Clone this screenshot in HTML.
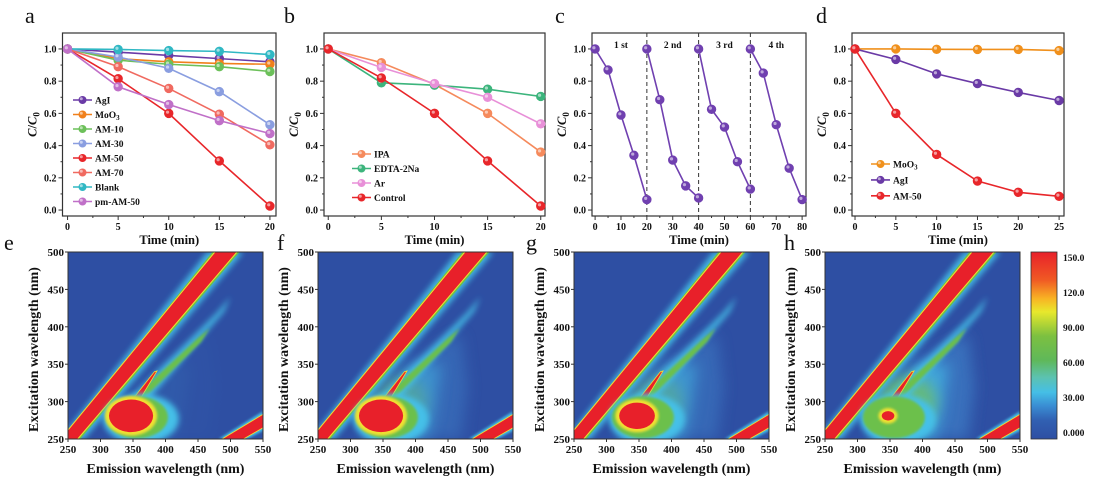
<!DOCTYPE html>
<html><head><meta charset="utf-8"><style>
html,body{margin:0;padding:0;background:#fff;}
svg{display:block;font-family:"Liberation Serif",serif;}
.tk{font-size:10px;font-weight:bold;fill:#111;}
.tt{font-size:12.5px;font-weight:bold;fill:#111;}
.lg{font-size:9.5px;font-weight:bold;fill:#111;}
.pl{font-size:22px;fill:#111;}
.ht{font-size:11px;font-weight:bold;fill:#111;}
.htt{font-size:14px;font-weight:bold;fill:#111;}
</style></head><body>
<svg id="fig" width="1110" height="486" viewBox="0 0 1110 486">
<defs>
<filter id="b1" x="-50%" y="-50%" width="200%" height="200%"><feGaussianBlur stdDeviation="1.2"/></filter>
<filter id="b2" x="-50%" y="-50%" width="200%" height="200%"><feGaussianBlur stdDeviation="3"/></filter>
<filter id="b3" x="-50%" y="-50%" width="200%" height="200%"><feGaussianBlur stdDeviation="7"/></filter>
<linearGradient id="cbg" x1="0" y1="1" x2="0" y2="0">
<stop offset="0" stop-color="#2e4fa3"/><stop offset="0.1" stop-color="#3160b2"/>
<stop offset="0.18" stop-color="#3a8fd4"/><stop offset="0.25" stop-color="#45bfe6"/>
<stop offset="0.33" stop-color="#5cc2b0"/><stop offset="0.42" stop-color="#5fb85a"/>
<stop offset="0.55" stop-color="#7cc040"/><stop offset="0.68" stop-color="#e8e82c"/>
<stop offset="0.75" stop-color="#f8b424"/><stop offset="0.85" stop-color="#f05a24"/>
<stop offset="1" stop-color="#e8202a"/></linearGradient>
</defs>
</svg>
<script>
const NS='http://www.w3.org/2000/svg';
const svg=document.getElementById('fig');
function mk(tag,attrs,parent){const e=document.createElementNS(NS,tag);for(const k in attrs)e.setAttribute(k,attrs[k]);(parent||svg).appendChild(e);return e;}

// ---------- data: panel a ----------
const aX=[0,5,10,15,20];
const aNames=['AgI','MoO3','AM-10','AM-30','AM-50','AM-70','Blank','pm-AM-50'];
const aAgI=[1,0.98,0.96,0.94,0.92];
const aMoO3=[1,0.94,0.92,0.91,0.905];
const aAM10=[1,0.93,0.905,0.89,0.86];
const aAM30=[1,0.95,0.88,0.735,0.53];
const aAM50=[1,0.815,0.6,0.305,0.025];
const aAM70=[1,0.89,0.755,0.595,0.405];
const aBlank=[1,0.997,0.99,0.985,0.965];
const aPm=[1,0.765,0.655,0.555,0.475];
// ---------- panel b ----------
const bX=[0,5,10,15,20];
const bNames=['IPA','EDTA-2Na','Ar','Control'];
const bIPA=[1,0.915,0.78,0.6,0.36];
const bEDTA=[1,0.79,0.775,0.75,0.705];
const bAr=[1,0.885,0.785,0.7,0.535];
const bCtrl=[1,0.82,0.6,0.305,0.025];
// ---------- panel c ----------
const cX1=[0,5,10,15,20], cY1=[1,0.87,0.59,0.34,0.065];
const cX2=[20,25,30,35,40], cY2=[1,0.685,0.31,0.15,0.075];
const cX3=[40,45,50,55,60], cY3=[1,0.625,0.515,0.3,0.13];
const cX4=[60,65,70,75,80], cY4=[1,0.85,0.53,0.26,0.065];
const cCycles=['1 st','2 nd','3 rd','4 th'];
// ---------- panel d ----------
const dX=[0,5,10,15,20,25];
const dNames=['MoO3','AgI','AM-50'];
const dMoO3=[1,1,0.998,0.997,0.997,0.99];
const dAgI=[1,0.935,0.845,0.785,0.73,0.68];
const dAM50=[1,0.6,0.345,0.18,0.11,0.085];
const yTicks=[0,0.2,0.4,0.6,0.8,1.0];
const yTickLabels=['0.0','0.2','0.4','0.6','0.8','1.0'];
// ---------- heatmaps ----------
const emTicks=[250,300,350,400,450,500,550];
const exTicks=[250,300,350,400,450,500];
const cbLabels=['150.0','120.0','90.00','60.00','30.00','0.000'];

function axes(p){
  const g=mk('g',{});
  
  
  const X=v=>p.x0+(v-p.xmin)/(p.xmax-p.xmin)*(p.x1-p.x0);
  const Y=v=>p.y1-(v-(-0.037))/(1.099+0.037)*(p.y1-p.y0);
  const box=mk('rect',{x:p.x0,y:p.y0,width:p.x1-p.x0,height:p.y1-p.y0,fill:'none',stroke:'#333','stroke-width':1.2},g);
  
  
  yTicks.forEach((v,i)=>{
    mk('line',{x1:p.x0,x2:p.x0-4,y1:Y(v),y2:Y(v),stroke:'#333'},g);
    if(i<yTicks.length-1)mk('line',{x1:p.x0,x2:p.x0-2,y1:Y(v+0.1),y2:Y(v+0.1),stroke:'#333'},g);
    const t=mk('text',{x:p.x0-6,y:Y(v)+3.5,'text-anchor':'end',class:'tk'},g);t.textContent=yTickLabels[i];
    
    
  });
  p.xt.forEach((v,i)=>{
    mk('line',{x1:X(v),x2:X(v),y1:p.y1,y2:p.y1+4,stroke:'#333'},g);
    if(i<p.xt.length-1)mk('line',{x1:X(v+p.xstep/2),x2:X(v+p.xstep/2),y1:p.y1,y2:p.y1+2,stroke:'#333'},g);
    const t=mk('text',{x:X(v),y:p.y1+14,'text-anchor':'middle',class:'tk'},g);t.textContent=String(v);
    
    
  });
  const xt=mk('text',{x:(p.x0+p.x1)/2,y:p.y1+28,'text-anchor':'middle',class:'tt'},g);xt.textContent='Time (min)';
  
  
  const yt=mk('text',{x:0,y:0,'text-anchor':'middle',class:'tt',transform:`translate(${p.x0-26},${(p.y0+p.y1)/2}) rotate(-90)`},g);
  yt.innerHTML='<tspan font-style="italic">C</tspan>/<tspan font-style="italic">C</tspan><tspan font-size="9" dy="3">0</tspan>';
  
  
  const pl=mk('text',{x:p.lx,y:23,class:'pl'},g);pl.textContent=p.letter;
  
  
  return {g,X,Y};
}
function series(ax,xs,ys,color,name){
  const g=mk('g',{},ax.g);
  
  
  mk('polyline',{points:xs.map((x,i)=>ax.X(x)+','+ax.Y(ys[i])).join(' '),fill:'none',stroke:color,'stroke-width':1.6},g);
  xs.forEach((x,i)=>{
    const c=mk('circle',{cx:ax.X(x),cy:ax.Y(ys[i]),r:4.3,fill:color,stroke:color,'stroke-width':0.8},g);
    
    
    mk('circle',{cx:ax.X(x)-1.2,cy:ax.Y(ys[i])-1.2,r:1.6,fill:'#fff',opacity:0.55},g);
  });
}
function legend(ax,x,y,dy,names,colors){
  names.forEach((n,i)=>{
    const g=mk('g',{},ax.g);
    
    
    const yy=y+i*dy;
    mk('line',{x1:x,x2:x+19,y1:yy,y2:yy,stroke:colors[i],'stroke-width':1.6},g);
    mk('circle',{cx:x+9.5,cy:yy,r:4,fill:colors[i]},g);
    mk('circle',{cx:x+8.3,cy:yy-1.2,r:1.5,fill:'#fff',opacity:0.55},g);
    const t=mk('text',{x:x+22,y:yy+3.5,class:'lg'},g);
    if(n==='MoO3')t.innerHTML='MoO<tspan font-size="7" dy="2">3</tspan>';else t.textContent=n;
  });
}
// panel a
const A=axes({name:'panel-a',letter:'a',lx:25,x0:62.5,x1:276,y0:33,y1:216,xmin:-0.5,xmax:20.6,xt:[0,5,10,15,20],xstep:5});
const aCols=['#6a3aa6','#f0801c','#6cc05a','#8a9ee0','#e8262a','#f06a60','#30b8c4','#c070c8'];
const aData=[aAgI,aMoO3,aAM10,aAM30,aAM50,aAM70,aBlank,aPm];
aData.forEach((d,i)=>series(A,aX,d,aCols[i],aNames[i]));
legend(A,73,100,14.5,aNames,aCols);
// panel b
const B=axes({name:'panel-b',letter:'b',lx:284,x0:324,x1:545,y0:33,y1:216,xmin:-0.4,xmax:20.4,xt:[0,5,10,15,20],xstep:5});
const bCols=['#f58a5c','#3cb47c','#e890d8','#e8262a'];
[bIPA,bEDTA,bAr,bCtrl].forEach((d,i)=>series(B,bX,d,bCols[i],bNames[i]));
legend(B,352,154,14.5,bNames,bCols);
// panel c
const C=axes({name:'panel-c',letter:'c',lx:555,x0:592,x1:806,y0:33,y1:216,xmin:-1.2,xmax:81.5,xt:[0,10,20,30,40,50,60,70,80],xstep:10});
[20,40,60].forEach(v=>{const l=mk('line',{x1:C.X(v),x2:C.X(v),y1:33,y2:216,stroke:'#333','stroke-dasharray':'4,3'},C.g);
 
 });
[[cX1,cY1],[cX2,cY2],[cX3,cY3],[cX4,cY4]].forEach((s,i)=>series(C,s[0],s[1],'#7040b0','cycle-'+(i+1)));
cCycles.forEach((n,i)=>{const t=mk('text',{x:C.X(10+20*i),y:48,'text-anchor':'middle',class:'lg'},C.g);t.textContent=n;
 
 });
// panel d
const D=axes({name:'panel-d',letter:'d',lx:816,x0:852,x1:1064,y0:33,y1:216,xmin:-0.37,xmax:25.6,xt:[0,5,10,15,20,25],xstep:5});
const dCols=['#f0901c','#6a3aa6','#e8262a'];
[dMoO3,dAgI,dAM50].forEach((d,i)=>series(D,dX,d,dCols[i],dNames[i]));
legend(D,871,164,15.9,dNames,dCols);

// ---------- heatmaps ----------
const heatPanels=[{l:'e',x0:68,lx:4},{l:'f',x0:318,lx:277},{l:'g',x0:574,lx:526},{l:'h',x0:825,lx:784}];
const blobScale=[1.05,1.05,0.85,0.3];
const hazeLevel=[0.1,0.7,0.75,1];
heatPanels.forEach((hp,k)=>{
  const x0=hp.x0,y0=252,w=195,h=187;
  const g=mk('g',{});
  
  
  const X=em=>x0+(em-250)/300*w, Y=ex=>y0+h-(ex-250)/250*h;
  const cp=mk('clipPath',{id:'cp'+k},svg);mk('rect',{x:x0,y:y0,width:w,height:h},cp);
  const c=mk('g',{'clip-path':`url(#cp${k})`},g);
  mk('rect',{x:x0,y:y0,width:w,height:h,fill:'#2e4fa3'},c);
  const P=pts=>pts.map(p=>X(p[0])+','+Y(p[1])).join(' ');
  const hz=hazeLevel[k];
  // haze
  mk('polygon',{points:P([[330,250],[330,300],[400,360],[470,390],[480,320],[470,250]]),fill:'#3a74c0',opacity:hz*0.9,filter:'url(#b3)'},c);
  mk('polygon',{points:P([[320,250],[330,300],[390,350],[440,350],[430,290],[420,250]]),fill:'#44b8e4',opacity:hz*0.75,filter:'url(#b3)'},c);
  if(k>=1)mk('ellipse',{cx:X(375),cy:Y(300),rx:22+8*hz,ry:26,fill:'#70c060',opacity:0.35+0.4*(k===3?1:0),filter:'url(#b3)'},c);
  // Rayleigh band glow
  mk('polygon',{points:P([[238,250],[464,500],[520,500],[275,250]]),fill:'#44c0e8',filter:'url(#b2)',opacity:0.9},c);
  mk('polygon',{points:P([[246,255],[472,500],[514,500],[269,250]]),fill:'#6cc04c'},c);
  mk('polygon',{points:P([[250,262],[476,500],[510,500],[265,250],[250,250]]),fill:'#e8202a',stroke:'#f0e030','stroke-width':1},c);
  // second order band
  mk('polygon',{points:P([[482,250],[550,287],[550,261],[525,250]]),fill:'#44c0e8',filter:'url(#b1)'},c);
  mk('polygon',{points:P([[487,250],[550,283],[550,265],[520,250]]),fill:'#e8202a',stroke:'#f0e030','stroke-width':0.8},c);
  // streak
  mk('polygon',{points:P([[345,305],[480,420],[500,440],[490,420],[372,300]]),fill:'#44c0e8',filter:'url(#b2)',opacity:0.85},c);
  mk('polygon',{points:P([[352,306],[450,385],[468,398],[455,380],[364,302]]),fill:'#6cc04c',filter:'url(#b1)'},c);
  mk('polygon',{points:P([[352,306],[383,340],[387,341],[362,305]]),fill:'#e8202a',stroke:'#f0e030','stroke-width':0.8},c);
  // blob
  const s=blobScale[k];
  mk('ellipse',{cx:X(362),cy:Y(277),rx:38,ry:25,fill:'#44c0e8',filter:'url(#b2)'},c);
  mk('ellipse',{cx:X(356),cy:Y(279),rx:31,ry:21,fill:'#6cc04c',filter:'url(#b1)'},c);
  mk('ellipse',{cx:X(347),cy:Y(281),rx:22*s+3,ry:16*s+3,fill:'#f0e030',filter:'url(#b1)'},c);
  mk('ellipse',{cx:X(347),cy:Y(281),rx:21*s,ry:15.5*s,fill:'#e8202a'},c);
  mk('rect',{x:x0,y:y0,width:w,height:h,fill:'none',stroke:'#333','stroke-width':1},g);
  // ticks
  emTicks.forEach(v=>{mk('line',{x1:X(v),x2:X(v),y1:y0+h,y2:y0+h+3,stroke:'#333'},g);
    const t=mk('text',{x:X(v),y:y0+h+14,'text-anchor':'middle',class:'ht'},g);t.textContent=String(v);
    
    });
  exTicks.forEach(v=>{mk('line',{x1:x0,x2:x0-3,y1:Y(v),y2:Y(v),stroke:'#333'},g);
    const t=mk('text',{x:x0-4,y:Y(v)+4,'text-anchor':'end',class:'ht'},g);t.textContent=String(v);
    
    });
  const xt=mk('text',{x:x0+w/2,y:473,'text-anchor':'middle',class:'htt'},g);xt.textContent='Emission wavelength (nm)';
  
  
  const yt=mk('text',{x:0,y:0,'text-anchor':'middle',class:'htt',transform:`translate(${x0-30},${y0+h/2+4}) rotate(-90)`},g);yt.textContent='Excitation wavelength (nm)';
  
  
  const pl=mk('text',{x:hp.lx,y:250,class:'pl'},g);pl.textContent=hp.l;
  
  
});
// colorbar
const cb=mk('g',{});


mk('rect',{x:1031,y:252,width:26,height:187,fill:'url(#cbg)',stroke:'#333','stroke-width':0.8},cb);
cbLabels.forEach((s,i)=>{const t=mk('text',{x:1063,y:261+i*35,class:'lg'},cb);t.textContent=s;
 
 });
</script>
</body></html>
